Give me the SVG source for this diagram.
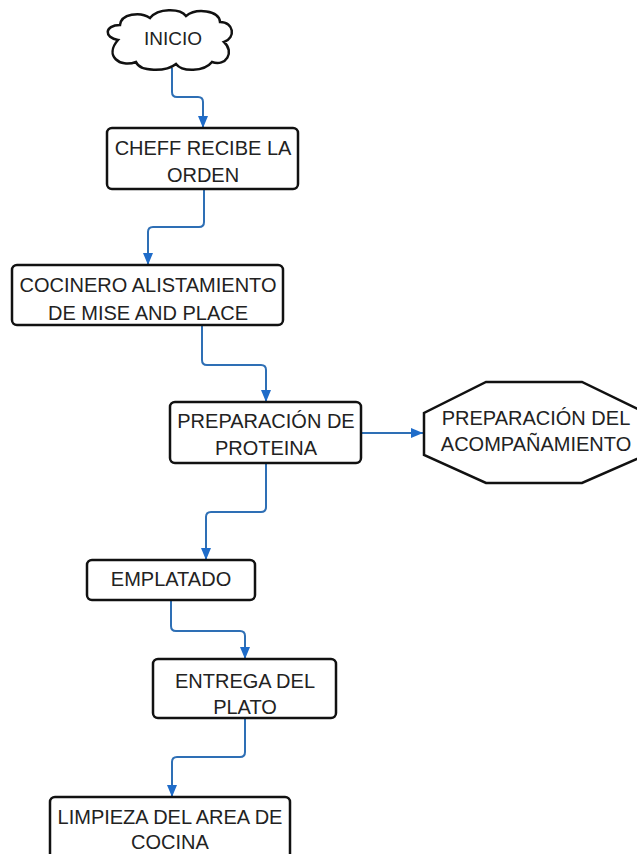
<svg xmlns="http://www.w3.org/2000/svg" width="637" height="854" viewBox="0 0 637 854">
<style>
.box{fill:#fff;stroke:#111;stroke-width:2.5}
.t{font-family:"Liberation Sans",Arial,sans-serif;font-size:20px;fill:#222;text-anchor:middle}
.c{fill:none;stroke:#2e6fb5;stroke-width:2}
</style>
<defs>
<marker id="ah" viewBox="0 0 12 10" refX="12" refY="5" markerWidth="12" markerHeight="10" markerUnits="userSpaceOnUse" orient="auto">
<path d="M0,0 L12,5 L0,10 z" fill="#1f6cc9"/>
</marker>
</defs>
<rect width="637" height="854" fill="#fff"/>
<g id="connectors">
<path class="c" marker-end="url(#ah)" d="M172,68 V92 Q172,97 177,97 H198 Q203,97 203,102 V128"/>
<path class="c" marker-end="url(#ah)" d="M204,189 V222 Q204,227 199,227 H153 Q148,227 148,232 V265"/>
<path class="c" marker-end="url(#ah)" d="M202,325 V360 Q202,365 207,365 H261 Q266,365 266,370 V402"/>
<path class="c" marker-end="url(#ah)" d="M361,433 H423"/>
<path class="c" marker-end="url(#ah)" d="M266,463 V507 Q266,512 261,512 H211 Q206,512 206,517 V560"/>
<path class="c" marker-end="url(#ah)" d="M171,600 V626 Q171,631 176,631 H240 Q245,631 245,636 V659"/>
<path class="c" marker-end="url(#ah)" d="M245,718 V752 Q245,757 240,757 H177 Q172,757 172,762 V797"/>
</g>
<g id="inicio">
<path class="box" d="M118,40 C104,38 104,25 120,25 C121,14 140,11 150,18 C158,8 180,8 186,16 C196,8 219,10 220,22 C234,22 236,38 224,42 C235,52 226,67 212,62 C204,72 182,72 176,64 C166,72 140,72 136,62 C120,68 104,56 118,40 Z"/>
<text class="t" x="173" y="45" style="font-size:19px">INICIO</text>
</g>
<g id="cheff">
<rect class="box" x="107" y="128" width="191" height="61" rx="5"/>
<text class="t" x="203" y="155">CHEFF RECIBE LA</text>
<text class="t" x="203" y="182">ORDEN</text>
</g>
<g id="cocinero">
<rect class="box" x="12" y="265" width="271" height="60" rx="5"/>
<text class="t" x="148" y="292">COCINERO ALISTAMIENTO</text>
<text class="t" x="148" y="320">DE MISE AND PLACE</text>
</g>
<g id="proteina">
<rect class="box" x="170" y="402" width="191" height="61" rx="5"/>
<text class="t" x="266" y="428">PREPARACIÓN DE</text>
<text class="t" x="266" y="455">PROTEINA</text>
</g>
<g id="acompanamiento">
<path class="box" d="M486,382 H582 L646,413 V455 L582,483 H486 L424,455 V413 Z"/>
<text class="t" x="536" y="425">PREPARACIÓN DEL</text>
<text class="t" x="536" y="451">ACOMPAÑAMIENTO</text>
</g>
<g id="emplatado">
<rect class="box" x="87" y="560" width="168" height="40" rx="5"/>
<text class="t" x="171" y="586">EMPLATADO</text>
</g>
<g id="entrega">
<rect class="box" x="153" y="659" width="183" height="59" rx="5"/>
<text class="t" x="245" y="688">ENTREGA DEL</text>
<text class="t" x="245" y="714">PLATO</text>
</g>
<g id="limpieza">
<rect class="box" x="50" y="797" width="240" height="70" rx="5"/>
<text class="t" x="170" y="824">LIMPIEZA DEL AREA DE</text>
<text class="t" x="170" y="849">COCINA</text>
</g>
</svg>
